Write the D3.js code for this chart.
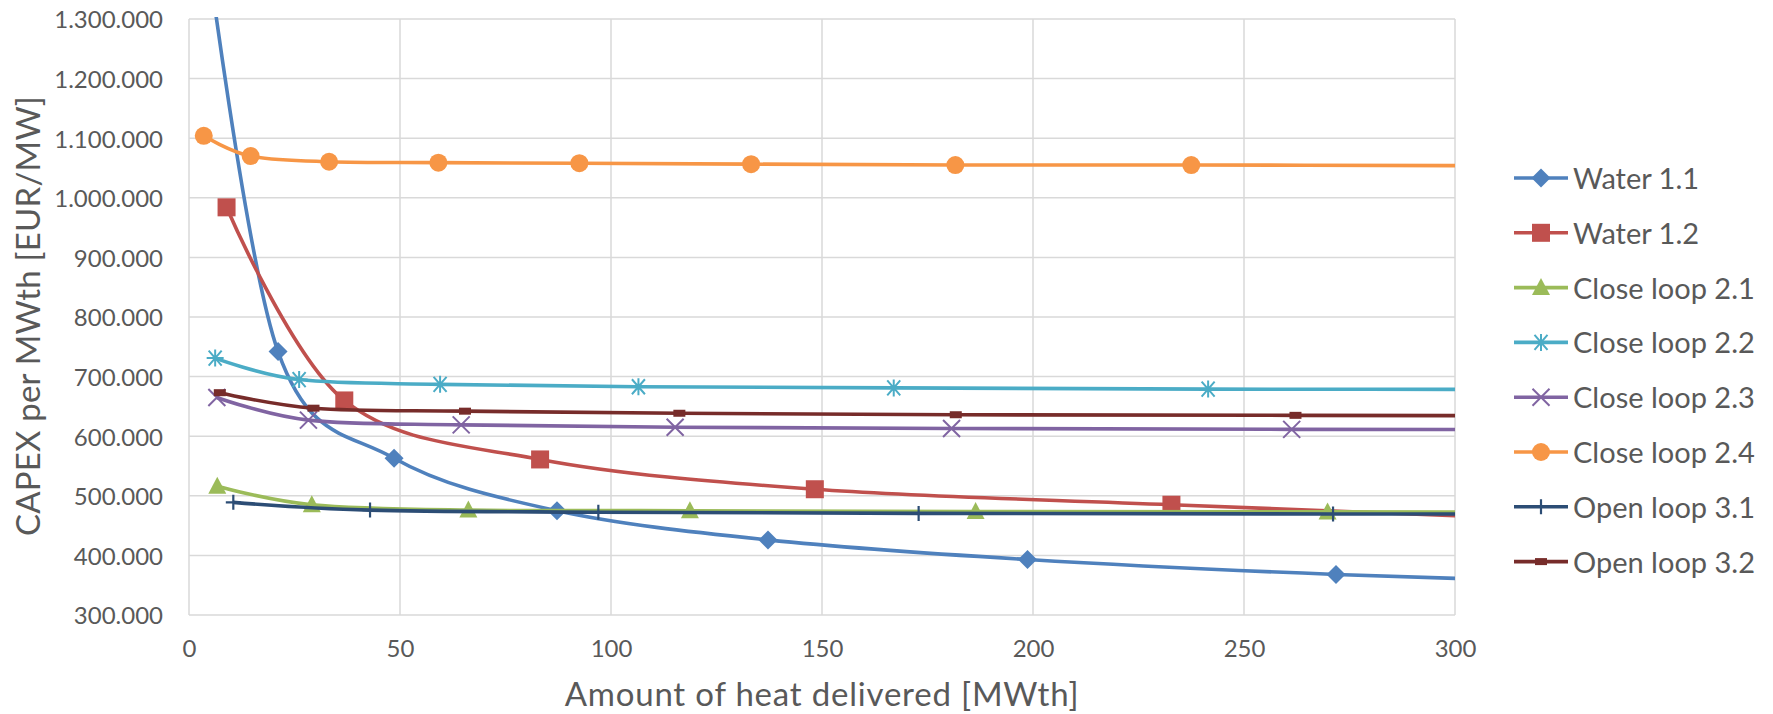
<!DOCTYPE html>
<html>
<head>
<meta charset="utf-8">
<script src="https://cdn.jsdelivr.net/npm/d3@7"></script>
<style>
  body { margin: 0; background: #fff; }
  svg text { font-family: Lato, "Open Sans", sans-serif; fill: #595959; }
</style>
</head>
<body>
<svg id="chart" width="1773" height="714"></svg>
<script>
// series values (x = MWth, y = EUR/MW)
var seriesNames = ['Water 1.1', 'Water 1.2', 'Close loop 2.1', 'Close loop 2.2',
    'Close loop 2.3', 'Close loop 2.4', 'Open loop 3.1', 'Open loop 3.2'];
var seriesColors = ['#4F81BD', '#C0504D', '#9BBB59', '#4BACC6', '#8064A2', '#F79646', '#2C4D75', '#772C2A'];
var seriesMarkers = ['diamond', 'square', 'triangle', 'star', 'cross', 'circle', 'plus', 'dash'];

var water11X = [3.5, 21.1, 48.6, 87.2, 137.2, 198.7, 271.8, 356];
var water11Y = [1460000, 742000, 563000, 475000, 426000, 393000, 368000, 350000];
var water12X = [8.9, 36.8, 83.2, 148.3, 232.8, 336];
var water12Y = [984000, 660000, 561000, 511000, 485000, 457000];
var loop21X = [6.7, 29.1, 66.2, 118.7, 186.4, 269.8, 369];
var loop21Y = [516000, 485000, 476000, 475000, 473500, 473000, 472000];
var loop22X = [6.2, 26.1, 59.5, 106.5, 167, 241.5, 329.5];
var loop22Y = [731000, 695000, 687000, 683000, 681000, 679000, 678500];
var loop23X = [6.6, 28.3, 64.5, 115.2, 180.7, 261.3, 356];
var loop23Y = [665000, 627000, 619000, 615000, 613000, 611500, 611000];
var loop24X = [3.5, 14.6, 33.2, 59.1, 92.5, 133.2, 181.6, 237.5, 301];
var loop24Y = [1104000, 1070000, 1060500, 1059000, 1058000, 1056500, 1055000, 1055000, 1054000];
var open31X = [10.5, 42.9, 97, 172.9, 271.1, 391];
var open31Y = [489000, 476000, 472500, 470500, 469500, 469000];
var open32X = [7.3, 29.5, 65.4, 116.2, 181.7, 262.2, 356];
var open32Y = [673000, 647000, 642000, 638500, 636000, 635000, 634000];

var xTicks = [0, 50, 100, 150, 200, 250, 300];
var yTicks = [300000, 400000, 500000, 600000, 700000, 800000, 900000, 1000000, 1100000, 1200000, 1300000];

var allX = [water11X, water12X, loop21X, loop22X, loop23X, loop24X, open31X, open32X];
var allY = [water11Y, water12Y, loop21Y, loop22Y, loop23Y, loop24Y, open31Y, open32Y];

var plotL = 189, plotR = 1455, plotT = 19, plotB = 615;
var svg = d3.select('#chart');

var x = d3.scaleLinear().domain([0, 300]).range([plotL, plotR]);
var y = d3.scaleLinear().domain([300000, 1300000]).range([plotB, plotT]);

var fmt = d3.formatLocale({decimal: ',', thousands: '.', grouping: [3], currency: ['', '']}).format(',.0f');

// gridlines
svg.append('g').selectAll('line').data(yTicks).join('line')
    .attr('x1', plotL).attr('x2', plotR)
    .attr('y1', function (d) { return y(d); }).attr('y2', function (d) { return y(d); })
    .attr('stroke', '#D9D9D9').attr('stroke-width', 1.5);
svg.append('g').selectAll('line').data(xTicks).join('line')
    .attr('y1', plotT).attr('y2', plotB)
    .attr('x1', function (d) { return x(d); }).attr('x2', function (d) { return x(d); })
    .attr('stroke', '#D9D9D9').attr('stroke-width', 1.5);

// axes (labels only)
var yAxis = svg.append('g').attr('transform', 'translate(' + plotL + ',0)')
    .call(d3.axisLeft(y).tickValues(yTicks).tickSize(0).tickPadding(26).tickFormat(fmt));
yAxis.select('.domain').remove();
yAxis.selectAll('text').attr('dy', '0.37em').style('font-size', '24px').attr('fill', '#595959');

var xAxis = svg.append('g').attr('transform', 'translate(0,' + plotB + ')')
    .call(d3.axisBottom(x).tickValues(xTicks).tickSize(0).tickPadding(25));
xAxis.select('.domain').remove();
xAxis.selectAll('text').style('font-size', '24px').attr('fill', '#595959');

// axis titles
svg.append('text')
    .attr('x', (plotL + plotR) / 2).attr('y', 706)
    .attr('text-anchor', 'middle')
    .style('font-size', '33px')
    .style('letter-spacing', '0.8px')
    .text('Amount of heat delivered [MWth]');
svg.append('text')
    .attr('transform', 'translate(40,316) rotate(-90)')
    .attr('text-anchor', 'middle')
    .style('font-size', '33px')
    .style('letter-spacing', '0.2px')
    .text('CAPEX per MWth [EUR/MW]');

svg.append('clipPath').attr('id', 'plotclip').append('rect')
    .attr('x', plotL).attr('y', plotT - 2).attr('width', plotR - plotL).attr('height', plotB - plotT + 4);

function drawMarker(g, type, color) {
    if (type === 'diamond') {
        g.append('path').attr('d', 'M0,-9.5L9.5,0L0,9.5L-9.5,0Z').attr('fill', color);
    } else if (type === 'square') {
        g.append('rect').attr('x', -9).attr('y', -9).attr('width', 18).attr('height', 18).attr('fill', color);
    } else if (type === 'triangle') {
        g.append('path').attr('d', 'M0,-9.5L9,7.5L-9,7.5Z').attr('fill', color);
    } else if (type === 'circle') {
        g.append('circle').attr('r', 9).attr('fill', color);
    } else if (type === 'star') {
        g.append('path').attr('d', 'M-8.5,0H8.5M-6.5,-7.5L6.5,7.5M-6.5,7.5L6.5,-7.5M0,-8.5V8.5')
            .attr('stroke', color).attr('stroke-width', 2).attr('fill', 'none');
    } else if (type === 'cross') {
        g.append('path').attr('d', 'M-8.5,-8.5L8.5,8.5M-8.5,8.5L8.5,-8.5')
            .attr('stroke', color).attr('stroke-width', 2).attr('fill', 'none');
    } else if (type === 'plus') {
        g.append('path').attr('d', 'M-7.5,0H7.5M0,-7.5V7.5')
            .attr('stroke', color).attr('stroke-width', 2.2).attr('fill', 'none');
    } else if (type === 'dash') {
        g.append('rect').attr('x', -6).attr('y', -3.5).attr('width', 12).attr('height', 7).attr('fill', color);
    }
}

var line = d3.line()
    .x(function (d) { return x(d[0]); })
    .y(function (d) { return y(d[1]); })
    .curve(d3.curveCardinal);

var plot = svg.append('g').attr('clip-path', 'url(#plotclip)');

seriesNames.forEach(function (name, i) {
    var pts = allX[i].map(function (v, j) { return [v, allY[i][j]]; });
    var g = plot.append('g');
    g.append('path').datum(pts)
        .attr('fill', 'none')
        .attr('stroke', seriesColors[i])
        .attr('stroke-width', 3.6)
        .attr('stroke-linejoin', 'round')
        .attr('d', line);
    pts.filter(function (p) { return p[0] <= 300 && p[1] <= 1300000; }).forEach(function (p) {
        var m = g.append('g').attr('transform', 'translate(' + x(p[0]) + ',' + y(p[1]) + ')');
        drawMarker(m, seriesMarkers[i], seriesColors[i]);
    });
});

// legend
var legend = svg.append('g');
seriesNames.forEach(function (name, i) {
    var ly = 178 + i * 54.8;
    var row = legend.append('g').attr('transform', 'translate(0,' + ly + ')');
    row.append('line').attr('x1', 1514).attr('x2', 1568).attr('y1', 0).attr('y2', 0)
        .attr('stroke', seriesColors[i]).attr('stroke-width', 3.6);
    var m = row.append('g').attr('transform', 'translate(1541,0)');
    drawMarker(m, seriesMarkers[i], seriesColors[i]);
    row.append('text').attr('x', 1573).attr('y', 11)
        .style('font-size', '29px')
        .text(name);
});
</script>
</body>
</html>
